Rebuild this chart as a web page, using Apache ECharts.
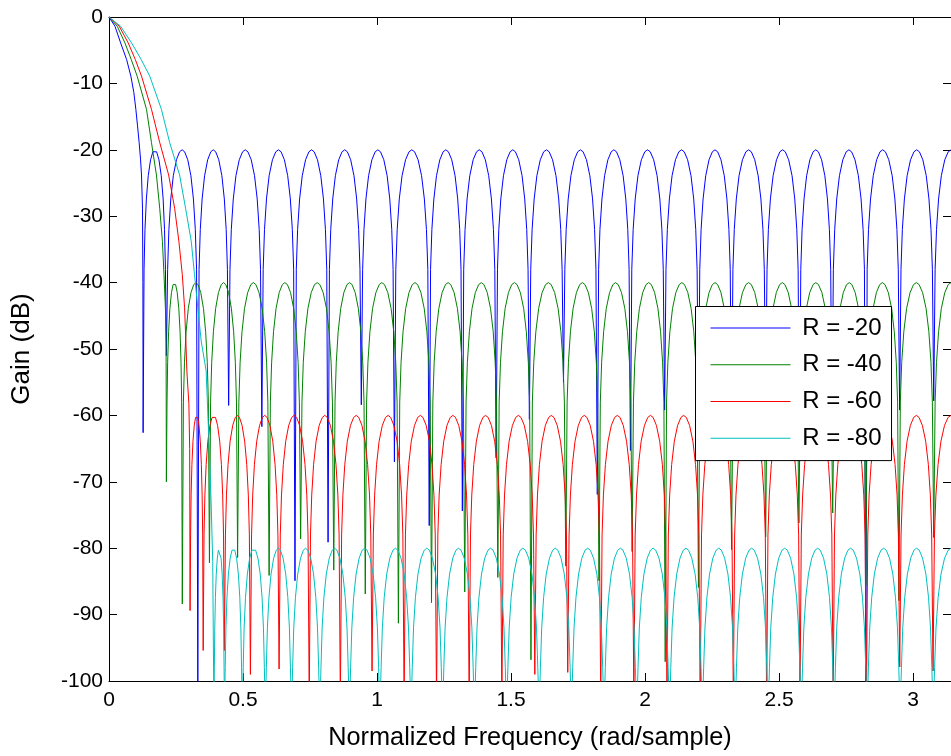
<!DOCTYPE html>
<html>
<head>
<meta charset="utf-8">
<script src="https://cdn.jsdelivr.net/npm/echarts@6/dist/echarts.min.js"></script>
<style>
html,body{margin:0;padding:0;background:#fff;}
#chart{width:951px;height:756px;}
</style>
</head>
<body>
<div id="chart"></div>
<script>
// ---- data ----
const seriesNames = ['R = -20', 'R = -40', 'R = -60', 'R = -80'];
const seriesColors = ['#0000FF', '#008000', '#FF0000', '#00BFBF'];
const sidelobeLevels = [-20, -40, -60, -80];
const xTickValues = [0, 0.5, 1, 1.5, 2, 2.5, 3];
const yTickValues = [0, -10, -20, -30, -40, -50, -60, -70, -80, -90, -100];

// main lobes: [frequency (rad/sample), gain (dB)]
const mainLobeBlue = [[0,0],[0.0223,-1.4],[0.0434,-3.9],[0.0657,-6.4],[0.0816,-8.9],[0.0928,-11.4],[0.1002,-13.9],[0.1065,-16.4],[0.1124,-18.9],[0.1176,-21.4],[0.1213,-23.8],[0.1250,-28.8],[0.1265,-40]];
const mainLobeGreen = [[0,0],[0.0308,-1.4],[0.0594,-3.9],[0.0830,-6.4],[0.1050,-8.9],[0.1399,-13.9],[0.1584,-18.9],[0.1770,-23.8],[0.1892,-28.8],[0.1993,-33.8],[0.2052,-38.8],[0.2104,-43.8],[0.2130,-48.8]];
const mainLobeRed = [[0,0],[0.0382,-1.4],[0.0716,-3.9],[0.0980,-6.4],[0.1213,-8.9],[0.1584,-13.9],[0.1892,-18.9],[0.2226,-23.8],[0.2449,-28.8],[0.2608,-33.8],[0.2735,-38.8],[0.2820,-43.8],[0.2868,-48.8],[0.2905,-53.3],[0.2980,-58.2],[0.3010,-65]];
const mainLobeCyan = [[0,0],[0.0434,-1.4],[0.0842,-3.9],[0.1200,-6.4],[0.1521,-8.9],[0.1955,-13.9],[0.2263,-18.9],[0.2635,-23.8],[0.2857,-28.8],[0.3069,-33.8],[0.3191,-38.8],[0.3314,-43.8],[0.3440,-48.8],[0.3625,-53.3],[0.3722,-63.2],[0.3811,-73.2],[0.3870,-82]];

// nulls between side lobes: positions (rad/sample) and depths (dB)
const nullsBlue = [0.1273,0.2141,0.3314,0.4464,0.5703,0.6939,0.8174,0.9414,1.0649,1.1948,1.3184,1.4445,1.5685,1.6957,1.8219,1.9455,2.0731,2.1993,2.3228,2.4501,2.5763,2.6976,2.8237,2.9499,3.0772];
const depthsBlue = [-62.6,-51,-101,-58.5,-61.7,-84.9,-79.1,-58.4,-67.0,-76.6,-74.4,-66.4,-60.6,-55,-71.9,-65.3,-59.2,-60,-62,-58,-68,-62,-101,-59.2,-57.8];
const nullsGreen = [0.2141,0.2735,0.3748,0.4798,0.5974,0.7150,0.8386,0.9562,1.0798,1.2033,1.3273,1.4508,1.5744,1.7043,1.8282,1.9518,2.0753,2.1993,2.3228,2.4501,2.5741,2.7002,2.8237,2.9473,3.0772];
const depthsGreen = [-70.0,-88.4,-82.2,-81.4,-84.1,-78.6,-83.3,-86.9,-91.3,-88.2,-86.6,-84.4,-96.8,-82.7,-84.9,-80.5,-97.1,-85.9,-80.2,-78.3,-76.2,-74.7,-85.6,-87.9,-78.4];
const nullsRed = [0.3025,0.3514,0.4305,0.5276,0.6346,0.7471,0.8632,0.9815,1.1012,1.2221,1.3438,1.4659,1.5888,1.7117,1.8348,1.9583,2.0820,2.2058,2.3294,2.4537,2.5781,2.7019,2.8261,2.9503,3.0745];
const depthsRed = [-89.4,-95.4,-95.4,-99.0,-98.2,-103,-103,-98.5,-103,-103,-103,-103,-99.0,-98.7,-103,-103,-103,-103,-103,-103,-103,-103,-103,-97.9,-98.5];
const nullsCyan = [0.3915,0.4309,0.4973,0.5831,0.6809,0.7864,0.8969,1.0106,1.1268,1.2445,1.3635,1.4834,1.6048,1.7253,1.8469,1.9689,2.0912,2.2138,2.3362,2.4593,2.5827,2.7054,2.8285,2.9517,3.0750];
const depthsCyan = [-105,-105,-105,-105,-105,-105,-105,-105,-105,-105,-105,-105,-105,-105,-105,-105,-105,-105,-105,-105,-105,-105,-105,-105,-105];

// outline of one side lobe as seen in the picture: [fraction across lobe, dB below lobe peak]
const lobeProfile = [[0.04,-18],[0.08,-12],[0.14,-7.4],[0.22,-3.9],[0.32,-1.5],[0.42,-0.3],[0.5,0],[0.58,-0.3],[0.68,-1.5],[0.78,-3.9],[0.86,-7.4],[0.92,-12],[0.96,-18]];

// ---- build the line data ----
function buildCurve(mainLobe, nulls, depths, level) {
  const pts = mainLobe.map(p => p.slice());
  for (let i = 0; i < nulls.length; i++) {
    const a = nulls[i];
    const b = (i + 1 < nulls.length) ? nulls[i + 1] : (2 * Math.PI - a);
    pts.push([a, depths[i]]);
    for (const [t, d] of lobeProfile) {
      const x = a + t * (b - a);
      if (x <= Math.PI + 1e-9) pts.push([x, level + d]);
    }
  }
  const last = pts[pts.length - 1];
  if (last[0] < Math.PI - 1e-6) pts.push([Math.PI, level]);
  return pts;
}

const curves = [
  buildCurve(mainLobeBlue, nullsBlue, depthsBlue, sidelobeLevels[0]),
  buildCurve(mainLobeGreen, nullsGreen, depthsGreen, sidelobeLevels[1]),
  buildCurve(mainLobeRed, nullsRed, depthsRed, sidelobeLevels[2]),
  buildCurve(mainLobeCyan, nullsCyan, depthsCyan, sidelobeLevels[3])
];

const FONT = '"Liberation Sans", Arial, Helvetica, sans-serif';
const chart = echarts.init(document.getElementById('chart'), null, {renderer: 'canvas'});

const axisLineStyle = {color: '#000', width: 1};
const option = {
  backgroundColor: '#fff',
  animation: false,
  textStyle: {fontFamily: FONT},
  grid: {left: 109, top: 17, right: -4.7, bottom: 70, containLabel: false, show: false},
  xAxis: [{
    type: 'value', position: 'bottom', min: 0, max: Math.PI, interval: 0.5,
    axisLine: {show: true, onZero: false, lineStyle: axisLineStyle},
    axisTick: {show: true, inside: true, length: 8, lineStyle: axisLineStyle},
    splitLine: {show: false},
    axisLabel: {
      show: true, margin: 9, color: '#000', fontSize: 21, fontFamily: FONT,
      showMaxLabel: false,
      formatter: v => xTickValues.some(t => Math.abs(t - v) < 1e-9) ? String(v) : ''
    },
    name: 'Normalized Frequency (rad/sample)', nameLocation: 'middle', nameGap: 45,
    nameTextStyle: {color: '#000', fontSize: 25.3, fontFamily: FONT}
  }, {
    type: 'value', position: 'top', min: 0, max: Math.PI, interval: 0.5,
    axisLine: {show: true, onZero: false, lineStyle: axisLineStyle},
    axisTick: {show: true, inside: true, length: 8, lineStyle: axisLineStyle},
    splitLine: {show: false}, axisLabel: {show: false}
  }],
  yAxis: [{
    type: 'value', position: 'left', min: -100, max: 0, interval: 10,
    axisLine: {show: true, onZero: false, lineStyle: axisLineStyle},
    axisTick: {show: true, inside: true, length: 8, lineStyle: axisLineStyle},
    splitLine: {show: false},
    axisLabel: {
      show: true, margin: 6, color: '#000', fontSize: 21, fontFamily: FONT,
      formatter: v => yTickValues.includes(v) ? String(v) : ''
    },
    name: 'Gain (dB)', nameLocation: 'middle', nameGap: 74,
    nameTextStyle: {color: '#000', fontSize: 26, fontFamily: FONT}
  }, {
    type: 'value', position: 'right', min: -100, max: 0, interval: 10,
    axisLine: {show: true, onZero: false, lineStyle: axisLineStyle},
    axisTick: {show: true, inside: true, length: 8, lineStyle: axisLineStyle},
    splitLine: {show: false}, axisLabel: {show: false}
  }],
  legend: {
    show: true, orient: 'vertical', left: 695.5, top: 306.5,
    backgroundColor: '#fff', borderColor: '#000', borderWidth: 1, borderRadius: 0,
    padding: [9.6, 10, 10.4, 15], itemWidth: 80, itemHeight: 1, itemGap: 12.7,
    icon: 'rect',
    textStyle: {color: '#000', fontSize: 24, fontFamily: FONT},
    formatter: n => ' ' + n,
    selectedMode: false,
    data: seriesNames
  },
  series: curves.map((data, i) => ({
    name: seriesNames[i], type: 'line', data: data,
    xAxisIndex: 0, yAxisIndex: 0,
    symbol: 'none', showSymbol: false, smooth: false, sampling: null,
    clip: true, silent: true,
    lineStyle: {color: seriesColors[i], width: 1},
    itemStyle: {color: seriesColors[i]}
  }))
};
chart.setOption(option);
</script>
</body>
</html>
